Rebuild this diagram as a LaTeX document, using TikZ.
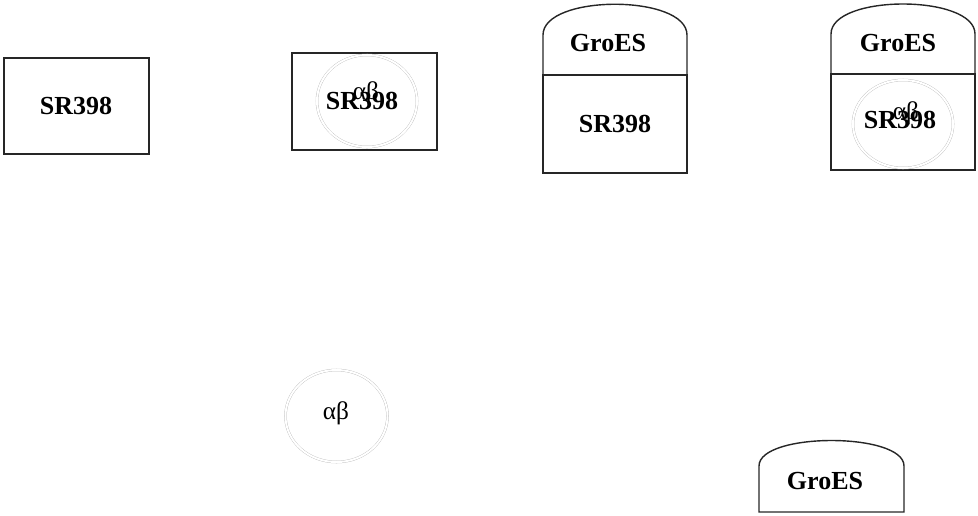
\documentclass[tikz,border=0pt]{standalone}
\usepackage{fontspec}
\setmainfont{Liberation Serif}
\usepackage{xcolor}

\tikzset{
  box/.style={draw=black!85, line width=1pt},
  ring/.style={draw=gray!60, very thin, double=white, double distance=1.4pt},
  lbl/.style={font=\fontsize{18.5}{20}\selectfont\bfseries, inner sep=0pt},
  sub/.style={font=\fontsize{18}{20}\selectfont, inner sep=0pt}
}

\begin{document}
\begin{tikzpicture}[x=0.025cm, y=-0.025cm]
\useasboundingbox (0,0) rectangle (978,515);
% plain SR398
\draw[box] (4,58) rectangle (149,154);
\node[lbl] (sra) at (76,106) {SR398};
% SR398 with alpha-beta ring
\draw[box] (292,53) rectangle (437,150);
\draw[ring] (367,101) ellipse (50 and 46);
\node[lbl] (srb) at (362,101) {SR398};
\node[sub] (abb) at (366,93) {αβ};
% GroES cap on SR398
\draw[box] (543,75) -- (543,35) .. controls (543,-6) and (687,-6) .. (687,35) -- (687,75) -- cycle;
\draw[box] (543,75) rectangle (687,173);
\node[lbl] (gra) at (608,43) {GroES};
\node[lbl] (src) at (615,124) {SR398};
% GroES cap on SR398 with ring
\draw[box] (831,74) -- (831,34) .. controls (831,-6) and (975,-6) .. (975,34) -- (975,74) -- cycle;
\draw[box] (831,74) rectangle (975,170);
\draw[ring] (903,124) ellipse (50 and 44);
\node[lbl] (grb) at (898,43) {GroES};
\node[lbl] (srd) at (900,120) {SR398};
\node[sub] (abd) at (906,113) {αβ};
% free alpha-beta ring
\draw[ring] (336.5,416) ellipse (51 and 46);
\node[sub] (abe) at (336,413) {αβ};
% free GroES cap
\draw[box] (759,512) -- (759,466) .. controls (759,432) and (904,432) .. (904,466) -- (904,512) -- cycle;
\node[lbl] (grc) at (825,481) {GroES};
\end{tikzpicture}
\end{document}
